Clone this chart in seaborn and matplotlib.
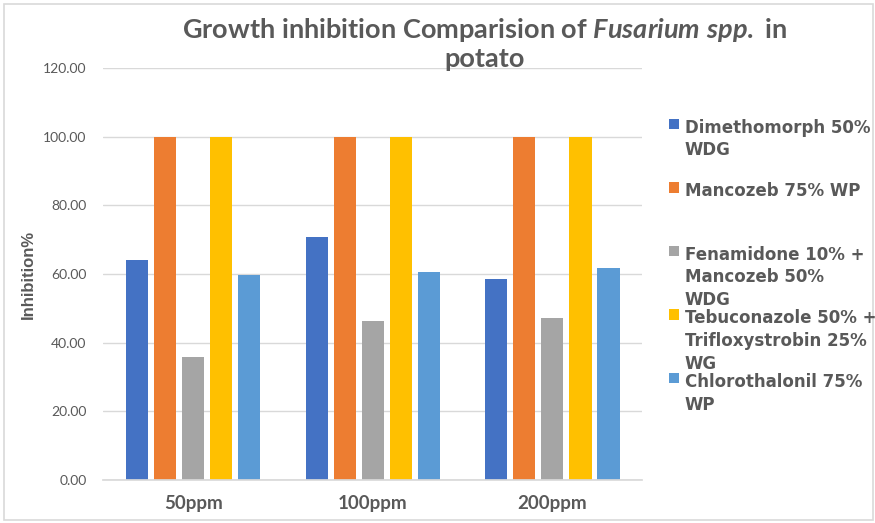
import matplotlib
matplotlib.use("Agg")
import matplotlib.pyplot as plt
import seaborn as sns
import pandas as pd
from matplotlib.patches import Rectangle

categories = ["50ppm", "100ppm", "200ppm"]
series_names = [
    "Dimethomorph 50%\nWDG",
    "Mancozeb 75% WP",
    "Fenamidone 10% +\nMancozeb 50%\nWDG",
    "Tebuconazole 50% +\nTrifloxystrobin 25%\nWG",
    "Chlorothalonil 75%\nWP",
]
dimethomorph = [64.0, 70.9, 58.6]
mancozeb = [100.0, 100.0, 100.0]
fenamidone = [35.8, 46.3, 47.3]
tebuconazole = [100.0, 100.0, 100.0]
chlorothalonil = [59.7, 60.5, 61.7]
colors = ["#4472C4", "#ED7D31", "#A5A5A5", "#FFC000", "#5B9BD5"]
yticks = [0, 20, 40, 60, 80, 100, 120]

all_values = [dimethomorph, mancozeb, fenamidone, tebuconazole, chlorothalonil]
rows = []
for name, vals in zip(series_names, all_values):
    for c, v in zip(categories, vals):
        rows.append({"Concentration": c, "Inhibition": v, "Fungicide": name})
df = pd.DataFrame(rows)

sns.set_theme(style="white")
plt.rcParams["mathtext.fontset"] = "custom"
plt.rcParams["mathtext.rm"] = "Lato:bold"
plt.rcParams["mathtext.it"] = "Lato:italic:bold"
grey = "#595959"

fig = plt.figure(figsize=(8.75, 5.23), dpi=100)
ax = fig.add_axes([0.118, 0.0822, 0.616, 0.788])

sns.barplot(data=df, x="Concentration", y="Inhibition", hue="Fungicide",
            order=categories, hue_order=series_names, palette=colors,
            saturation=1, width=0.78, gap=0.21, ax=ax, errorbar=None,
            linewidth=0, edgecolor="none")

ax.set_ylim(0, 120)
ax.set_yticks(yticks)
ax.set_yticklabels([f"{t:.2f}" for t in yticks], fontsize=10, color=grey,
                   family="Lato")
for lab in ax.get_xticklabels():
    lab.set_fontsize(13.5)
    lab.set_color(grey)
    lab.set_fontfamily("Lato")
    lab.set_fontweight("bold")
ax.set_xlabel("")
ax.set_ylabel("Inhibition%", fontsize=12, fontweight="bold", color=grey,
              family="Liberation Sans", labelpad=5)
ax.yaxis.grid(True, color="#d9d9d9", linewidth=1)
ax.set_axisbelow(True)
for s in ["top", "right", "left"]:
    ax.spines[s].set_visible(False)
ax.spines["bottom"].set_color("#d9d9d9")
ax.tick_params(axis="both", length=0)
ax.tick_params(axis="x", pad=11)
ax.tick_params(axis="y", pad=12)

handles, labels = ax.get_legend_handles_labels()
ax.get_legend().remove()
padded = []
for lab in labels:
    n = lab.count("\n") + 1
    padded.append(lab + "\n" * (3 - n))
leg = fig.legend(handles, padded, loc="upper left",
                 bbox_to_anchor=(0.755, 0.789), frameon=False,
                 prop={"family": "DejaVu Sans", "weight": "bold", "size": 12},
                 labelcolor=grey, handlelength=0.6, handleheight=0.6,
                 handletextpad=0.35, labelspacing=0.0, borderpad=0)
for t in leg.get_texts():
    t.set_linespacing(1.34)
for vp in leg._legend_handle_box.get_children():
    for hp in vp.get_children():
        hp.align = "top"

fig.text(0.554, 0.917,
         "Growth inhibition Comparision of $\\mathit{Fusarium\\ spp.}$ in\npotato",
         ha="center", va="center", fontsize=19.5, fontweight="bold",
         color=grey, family="Lato", linespacing=1.15)

fig.patches.append(Rectangle((0.004, 0.006), 0.994, 0.986,
                             transform=fig.transFigure, fill=False,
                             edgecolor="#d9d9d9", linewidth=1.2))

fig.savefig("out.png", dpi=100)
